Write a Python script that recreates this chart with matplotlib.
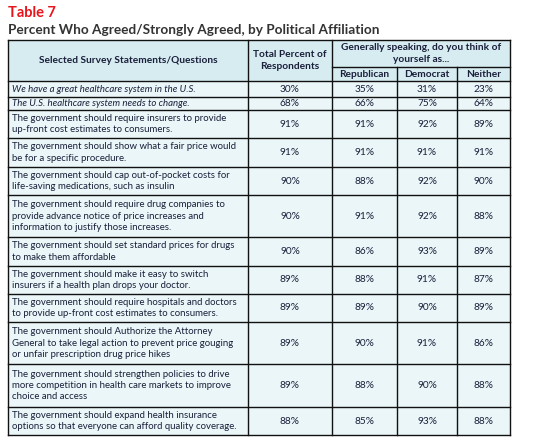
import matplotlib
matplotlib.use("Agg")
import matplotlib.pyplot as plt
from matplotlib.patches import Rectangle

plt.rcParams['font.family'] = ['Lato', 'DejaVu Sans']

statements = [
    "We have a great healthcare system in the U.S.",
    "The U.S. healthcare system needs to change.",
    "The government should require insurers to provide\nup-front cost estimates to consumers.",
    "The government should show what a fair price would\nbe for a specific procedure.",
    "The government should cap out-of-pocket costs for\nlife-saving medications, such as insulin",
    "The government should require drug companies to\nprovide advance notice of price increases and\ninformation to justify those increases.",
    "The government should set standard prices for drugs\nto make them affordable",
    "The government should make it easy to switch\ninsurers if a health plan drops your doctor.",
    "The government should require hospitals and doctors\nto provide up-front cost estimates to consumers.",
    "The government should Authorize the Attorney\nGeneral to take legal action to prevent price gouging\nor unfair prescription drug price hikes",
    "The government should strengthen policies to drive\nmore competition in health care markets to improve\nchoice and access",
    "The government should expand health insurance\noptions so that everyone can afford quality coverage.",
]
total = [30, 68, 91, 91, 90, 90, 90, 89, 89, 89, 89, 88]
republican = [35, 66, 91, 91, 88, 91, 86, 88, 89, 90, 88, 85]
democrat = [31, 75, 92, 91, 92, 92, 93, 91, 90, 91, 90, 93]
neither = [23, 64, 89, 91, 90, 88, 89, 87, 89, 86, 88, 88]
italic_rows = [0, 1]

W, H = 533, 443
fig = plt.figure(figsize=(W/100, H/100), dpi=100)
ax = fig.add_axes([0, 0, 1, 1])
ax.set_xlim(0, W); ax.set_ylim(H, 0); ax.axis('off')

txt = '#1a1f3a'
xs = [8, 248, 332, 397, 457, 510]
hy = [40, 67, 81]
rows = [81, 97, 110, 138, 167, 195, 237, 266, 294, 322, 364, 407, 435]

ax.text(8, 13, "Table 7", color='#e8131b', fontsize=10.5, fontweight='bold', va='center')
ax.text(8, 30, "Percent Who Agreed/Strongly Agreed, by Political Affiliation",
        color='#333333', fontsize=9.8, fontweight='bold', va='center')

ax.add_patch(Rectangle((xs[0], hy[0]), xs[-1]-xs[0], hy[2]-hy[0], fc='#d6ecf1', ec='none'))
ax.add_patch(Rectangle((xs[0], rows[0]), xs[-1]-xs[0], rows[-1]-rows[0], fc='#eaf6f8', ec='none'))

lk = dict(color='#111111', lw=1.0)
ax.plot([xs[0], xs[-1]], [hy[0], hy[0]], **lk)
ax.plot([xs[2], xs[-1]], [hy[1], hy[1]], **lk)
for y in rows:
    ax.plot([xs[0], xs[-1]], [y, y], **lk)
for i, x in enumerate(xs):
    y0 = hy[1] if i in (3, 4) else hy[0]
    ax.plot([x, x], [y0, rows[-1]], **lk)

fs = 7.3
ax.text((xs[0]+xs[1])/2, (hy[0]+hy[2])/2, "Selected Survey Statements/Questions",
        ha='center', va='center', color=txt, fontsize=fs, fontweight='bold')
ax.text((xs[1]+xs[2])/2, (hy[0]+hy[2])/2, "Total Percent of\nRespondents",
        ha='center', va='center', color=txt, fontsize=fs, fontweight='bold', linespacing=1.4)
ax.text((xs[2]+xs[5])/2, (hy[0]+hy[1])/2, "Generally speaking, do you think of\nyourself as...",
        ha='center', va='center', color=txt, fontsize=fs, fontweight='bold', linespacing=1.3)
for i, lab in enumerate(["Republican", "Democrat", "Neither"]):
    ax.text((xs[2+i]+xs[3+i])/2, (hy[1]+hy[2])/2+0.5, lab,
            ha='center', va='center', color=txt, fontsize=fs, fontweight='bold')

for r, s in enumerate(statements):
    yc = (rows[r]+rows[r+1])/2
    ax.text(xs[0]+4, yc, s, ha='left', va='center', color=txt, fontsize=6.9,
            style='italic' if r in italic_rows else 'normal', linespacing=1.35)
    for c, vals in enumerate([total, republican, democrat, neither]):
        ax.text((xs[1+c]+xs[2+c])/2, yc, f"{vals[r]}%", ha='center', va='center',
                color=txt, fontsize=fs)

fig.savefig("out.png", dpi=100)
